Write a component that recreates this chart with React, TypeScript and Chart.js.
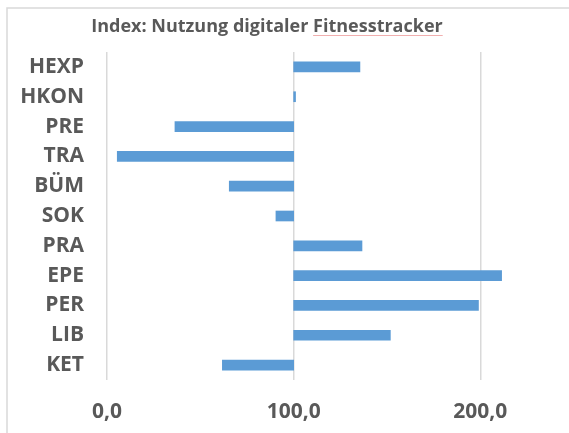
import React, { useEffect, useRef } from "react";
import { Chart, registerables } from "chart.js";

Chart.register(...registerables);

const titleText = "Index: Nutzung digitaler Fitnesstracker";
const categories = ["HEXP", "HKON", "PRE", "TRA", "BÜM", "SOK", "PRA", "EPE", "PER", "LIB", "KET"];
const indexValues = [135.5, 101, 36.4, 5.5, 65.5, 90.5, 136.6, 211.4, 199, 151.8, 61.8];
const baseline = 100;
const tickValues = [0, 100, 200];

const FONT = "'Open Sans', sans-serif";
const GRAY = "#595959";

export default function App() {
  const ref = useRef<HTMLCanvasElement | null>(null);

  useEffect(() => {
    document.body.style.margin = "0";
    document.body.style.overflow = "hidden";
    const canvas = ref.current;
    if (!canvas) return;

    const framePlugin = {
      id: "frame",
      beforeDraw(chart: any) {
        const ctx = chart.ctx;
        ctx.save();
        ctx.fillStyle = "#ffffff";
        ctx.fillRect(0, 0, chart.width, chart.height);
        ctx.strokeStyle = "#d9d9d9";
        ctx.lineWidth = 1.5;
        ctx.beginPath();
        ctx.moveTo(7, chart.height);
        ctx.lineTo(7, 8);
        ctx.lineTo(chart.width, 8);
        ctx.stroke();
        ctx.restore();
      },
      afterDraw(chart: any) {
        const ctx = chart.ctx;
        ctx.save();
        ctx.fillStyle = GRAY;
        ctx.font = `bold 18px ${FONT}`;
        ctx.textAlign = "center";
        ctx.textBaseline = "middle";
        const cx = 267;
        const cy = 27;
        ctx.fillText(titleText, cx, cy);
        // faint spell-check underline under the last word
        const full = ctx.measureText(titleText).width;
        const lastWord = titleText.split(" ").pop() || "";
        const wLast = ctx.measureText(lastWord).width;
        const right = cx + full / 2;
        ctx.strokeStyle = "rgba(230,110,110,0.55)";
        ctx.lineWidth = 1;
        ctx.beginPath();
        ctx.moveTo(right - wLast, 35.5);
        ctx.lineTo(right, 35.5);
        ctx.stroke();
        ctx.restore();
      },
    };

    const chart = new Chart(canvas, {
      type: "bar",
      data: {
        labels: categories,
        datasets: [
          {
            data: indexValues.map((v) => [baseline, v]) as any,
            backgroundColor: "#5B9BD5",
            borderWidth: 0,
            barThickness: 10,
          },
        ],
      },
      options: {
        indexAxis: "y",
        responsive: false,
        animation: false,
        devicePixelRatio: 1,
        layout: { padding: { top: 52, left: 0, right: 0, bottom: 0 } },
        plugins: {
          legend: { display: false },
          title: { display: false },
          tooltip: { enabled: false },
        },
        scales: {
          y: {
            type: "category",
            grid: { display: false, drawTicks: false },
            border: { display: false },
            ticks: {
              color: GRAY,
              font: { family: FONT, size: 21, weight: "bold" },
              padding: 23,
            },
            afterFit(scale: any) {
              scale.width = 107;
            },
          },
          x: {
            type: "linear",
            min: 0,
            max: 247.5,
            grid: { color: "#d9d9d9", lineWidth: 1.5, drawTicks: false },
            border: { display: false },
            ticks: {
              color: GRAY,
              font: { family: FONT, size: 21, weight: "bold" },
              padding: 19,
              callback: (v: any) => Number(v).toFixed(1).replace(".", ","),
            },
            afterBuildTicks(scale: any) {
              scale.ticks = tickValues.map((value) => ({ value }));
            },
            afterFit(scale: any) {
              scale.height = 53;
            },
          },
        },
      },
      plugins: [framePlugin],
    });

    return () => chart.destroy();
  }, []);

  return <canvas ref={ref} width={569} height={433} style={{ display: "block" }} />;
}
